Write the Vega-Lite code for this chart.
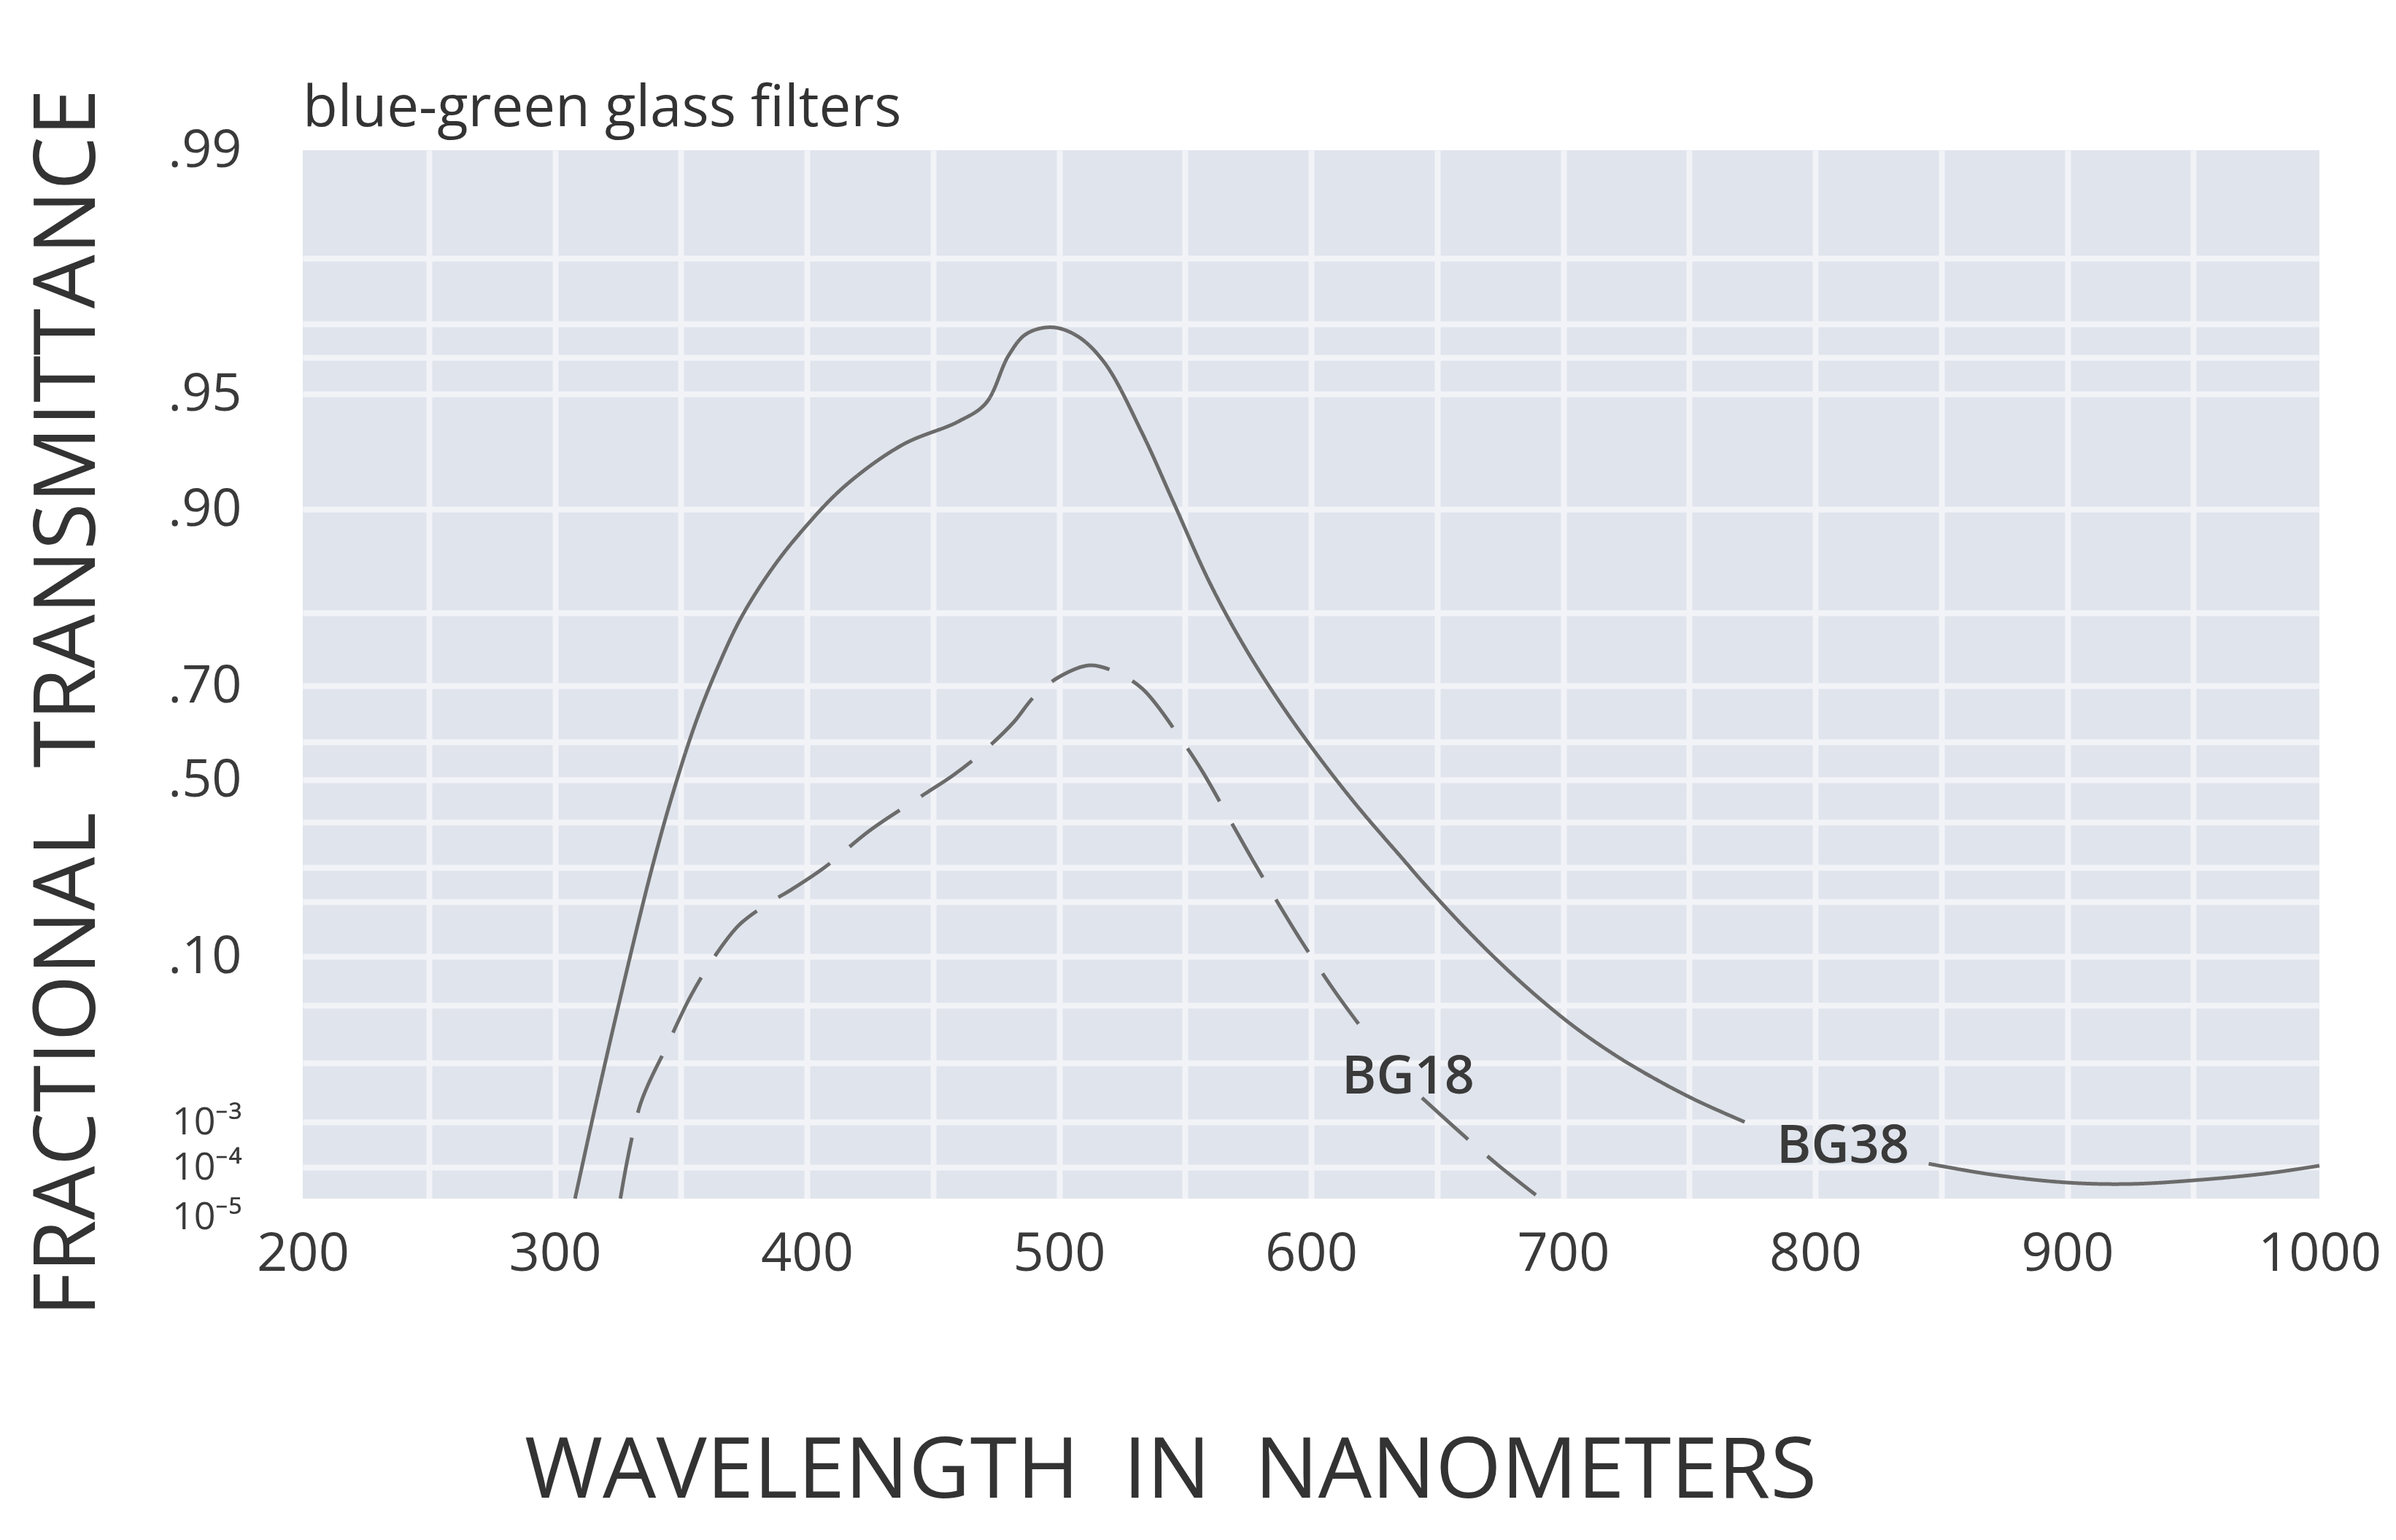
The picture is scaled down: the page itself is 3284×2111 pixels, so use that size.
{
  "$schema": "https://vega.github.io/schema/vega-lite/v6.json",
  "width": 2764,
  "height": 1437,
  "autosize": {"type": "none"},
  "padding": {"left": 415, "top": 206, "right": 105, "bottom": 468},
  "background": "#ffffff",
  "title": {
    "text": "blue-green glass filters",
    "anchor": "start",
    "frame": "group",
    "font": "Open Sans",
    "fontSize": 78,
    "fontWeight": "normal",
    "color": "#333333",
    "baseline": "alphabetic",
    "offset": -129
  },
  "config": {
    "view": {"fill": "#e0e4ec", "stroke": null},
    "axis": {
      "labelFont": "Open Sans",
      "titleFont": "Open Sans",
      "labelColor": "#3a3a3a",
      "titleColor": "#333333",
      "titleFontWeight": "normal",
      "gridColor": "#f1f3f7",
      "gridWidth": 8,
      "domain": false,
      "ticks": false,
      "tickSize": 0,
      "labelOverlap": false,
      "labelFlush": false,
      "labelBound": false
    }
  },
  "datasets": {
    "curves": [
      {"filter": "BG38", "segment": "BG38-1", "wavelength": 308, "transmittance": 0.00001},
      {"filter": "BG38", "segment": "BG38-1", "wavelength": 316, "transmittance": 0.0033},
      {"filter": "BG38", "segment": "BG38-1", "wavelength": 325, "transmittance": 0.048},
      {"filter": "BG38", "segment": "BG38-1", "wavelength": 338, "transmittance": 0.283},
      {"filter": "BG38", "segment": "BG38-1", "wavelength": 347, "transmittance": 0.472},
      {"filter": "BG38", "segment": "BG38-1", "wavelength": 356, "transmittance": 0.636},
      {"filter": "BG38", "segment": "BG38-1", "wavelength": 365, "transmittance": 0.7285},
      {"filter": "BG38", "segment": "BG38-1", "wavelength": 374, "transmittance": 0.794},
      {"filter": "BG38", "segment": "BG38-1", "wavelength": 386, "transmittance": 0.842},
      {"filter": "BG38", "segment": "BG38-1", "wavelength": 398, "transmittance": 0.879},
      {"filter": "BG38", "segment": "BG38-1", "wavelength": 415, "transmittance": 0.91},
      {"filter": "BG38", "segment": "BG38-1", "wavelength": 438, "transmittance": 0.928},
      {"filter": "BG38", "segment": "BG38-1", "wavelength": 460, "transmittance": 0.938},
      {"filter": "BG38", "segment": "BG38-1", "wavelength": 471, "transmittance": 0.946},
      {"filter": "BG38", "segment": "BG38-1", "wavelength": 480, "transmittance": 0.9606},
      {"filter": "BG38", "segment": "BG38-1", "wavelength": 487, "transmittance": 0.967},
      {"filter": "BG38", "segment": "BG38-1", "wavelength": 497, "transmittance": 0.969},
      {"filter": "BG38", "segment": "BG38-1", "wavelength": 507, "transmittance": 0.9665},
      {"filter": "BG38", "segment": "BG38-1", "wavelength": 518, "transmittance": 0.9586},
      {"filter": "BG38", "segment": "BG38-1", "wavelength": 533, "transmittance": 0.933},
      {"filter": "BG38", "segment": "BG38-1", "wavelength": 545, "transmittance": 0.904},
      {"filter": "BG38", "segment": "BG38-1", "wavelength": 560, "transmittance": 0.828},
      {"filter": "BG38", "segment": "BG38-1", "wavelength": 574, "transmittance": 0.751},
      {"filter": "BG38", "segment": "BG38-1", "wavelength": 589, "transmittance": 0.661},
      {"filter": "BG38", "segment": "BG38-1", "wavelength": 604, "transmittance": 0.552},
      {"filter": "BG38", "segment": "BG38-1", "wavelength": 619, "transmittance": 0.433},
      {"filter": "BG38", "segment": "BG38-1", "wavelength": 636, "transmittance": 0.321},
      {"filter": "BG38", "segment": "BG38-1", "wavelength": 646, "transmittance": 0.243},
      {"filter": "BG38", "segment": "BG38-1", "wavelength": 660, "transmittance": 0.157},
      {"filter": "BG38", "segment": "BG38-1", "wavelength": 675, "transmittance": 0.0933},
      {"filter": "BG38", "segment": "BG38-1", "wavelength": 690, "transmittance": 0.0582},
      {"filter": "BG38", "segment": "BG38-1", "wavelength": 705, "transmittance": 0.0343},
      {"filter": "BG38", "segment": "BG38-1", "wavelength": 720, "transmittance": 0.0161},
      {"filter": "BG38", "segment": "BG38-1", "wavelength": 734, "transmittance": 0.0081},
      {"filter": "BG38", "segment": "BG38-1", "wavelength": 752, "transmittance": 0.00444},
      {"filter": "BG38", "segment": "BG38-1", "wavelength": 772, "transmittance": 0.001},
      {"filter": "BG38", "segment": "BG38-2", "wavelength": 845, "transmittance": 0.00017},
      {"filter": "BG38", "segment": "BG38-2", "wavelength": 870, "transmittance": 0.000079},
      {"filter": "BG38", "segment": "BG38-2", "wavelength": 900, "transmittance": 0.000056},
      {"filter": "BG38", "segment": "BG38-2", "wavelength": 925, "transmittance": 0.000052},
      {"filter": "BG38", "segment": "BG38-2", "wavelength": 953, "transmittance": 0.000064},
      {"filter": "BG38", "segment": "BG38-2", "wavelength": 980, "transmittance": 0.000083},
      {"filter": "BG38", "segment": "BG38-2", "wavelength": 1000, "transmittance": 0.00013},
      {"filter": "BG18", "segment": "BG18-1", "wavelength": 326, "transmittance": 0.00001},
      {"filter": "BG18", "segment": "BG18-1", "wavelength": 334, "transmittance": 0.0038},
      {"filter": "BG18", "segment": "BG18-1", "wavelength": 344.5, "transmittance": 0.022},
      {"filter": "BG18", "segment": "BG18-1", "wavelength": 354, "transmittance": 0.06},
      {"filter": "BG18", "segment": "BG18-1", "wavelength": 364, "transmittance": 0.104},
      {"filter": "BG18", "segment": "BG18-1", "wavelength": 373, "transmittance": 0.157},
      {"filter": "BG18", "segment": "BG18-1", "wavelength": 384, "transmittance": 0.195},
      {"filter": "BG18", "segment": "BG18-1", "wavelength": 394, "transmittance": 0.236},
      {"filter": "BG18", "segment": "BG18-1", "wavelength": 407, "transmittance": 0.3},
      {"filter": "BG18", "segment": "BG18-1", "wavelength": 425, "transmittance": 0.382},
      {"filter": "BG18", "segment": "BG18-1", "wavelength": 445, "transmittance": 0.46},
      {"filter": "BG18", "segment": "BG18-1", "wavelength": 458, "transmittance": 0.512},
      {"filter": "BG18", "segment": "BG18-1", "wavelength": 470, "transmittance": 0.575},
      {"filter": "BG18", "segment": "BG18-1", "wavelength": 482, "transmittance": 0.635},
      {"filter": "BG18", "segment": "BG18-1", "wavelength": 490, "transmittance": 0.68},
      {"filter": "BG18", "segment": "BG18-1", "wavelength": 500, "transmittance": 0.712},
      {"filter": "BG18", "segment": "BG18-1", "wavelength": 512, "transmittance": 0.728},
      {"filter": "BG18", "segment": "BG18-1", "wavelength": 521, "transmittance": 0.721},
      {"filter": "BG18", "segment": "BG18-1", "wavelength": 533, "transmittance": 0.695},
      {"filter": "BG18", "segment": "BG18-1", "wavelength": 549, "transmittance": 0.601},
      {"filter": "BG18", "segment": "BG18-1", "wavelength": 557, "transmittance": 0.521},
      {"filter": "BG18", "segment": "BG18-1", "wavelength": 568.5, "transmittance": 0.398},
      {"filter": "BG18", "segment": "BG18-1", "wavelength": 577, "transmittance": 0.3145},
      {"filter": "BG18", "segment": "BG18-1", "wavelength": 588, "transmittance": 0.189},
      {"filter": "BG18", "segment": "BG18-1", "wavelength": 596, "transmittance": 0.129},
      {"filter": "BG18", "segment": "BG18-1", "wavelength": 610, "transmittance": 0.062},
      {"filter": "BG18", "segment": "BG18-1", "wavelength": 624, "transmittance": 0.025},
      {"filter": "BG18", "segment": "BG18-2", "wavelength": 644, "transmittance": 0.00467},
      {"filter": "BG18", "segment": "BG18-2", "wavelength": 662, "transmittance": 0.000666},
      {"filter": "BG18", "segment": "BG18-2", "wavelength": 674, "transmittance": 0.00015},
      {"filter": "BG18", "segment": "BG18-2", "wavelength": 691, "transmittance": 0.00001}
    ],
    "labels": [
      {"label": "BG18", "wavelength": 638.5, "transmittance": 0.0078},
      {"label": "BG38", "wavelength": 811, "transmittance": 0.00051}
    ]
  },
  "encoding": {
    "x": {
      "field": "wavelength",
      "type": "quantitative",
      "scale": {"domain": [200, 1000], "nice": false, "zero": false},
      "axis": {
        "values": [200, 250, 300, 350, 400, 450, 500, 550, 600, 650, 700, 750, 800, 850, 900, 950, 1000],
        "format": "d",
        "labelExpr": "datum.value % 100 === 0 ? datum.label : ''",
        "grid": true,
        "gridOpacity": {"condition": {"test": "datum.value == 200 || datum.value == 1000", "value": 0}, "value": 1},
        "labelFontSize": 74,
        "labelPadding": 40,
        "title": "WAVELENGTH\u00a0\u00a0IN\u00a0\u00a0NANOMETERS",
        "titleFontSize": 116,
        "titleX": 1189,
        "titleY": 374,
        "titleAlign": "center",
        "titleBaseline": "middle"
      }
    },
    "y": {
      "field": "transmittance",
      "type": "quantitative",
      "scale": {
        "type": "linear",
        "nice": false,
        "zero": false,
        "domain": [0.00001, 0.0001, 0.001, 0.01, 0.05, 0.1, 0.2, 0.3, 0.4, 0.5, 0.6, 0.7, 0.8, 0.9, 0.95, 0.96, 0.97, 0.98, 0.99],
        "range": [1437, 1394, 1332, 1251, 1172, 1105, 1030, 983, 921, 863, 811, 734, 634, 492, 334, 284, 238, 148, 0]
      },
      "axis": {
        "values": [0.00001, 0.0001, 0.001, 0.01, 0.05, 0.1, 0.2, 0.3, 0.4, 0.5, 0.6, 0.7, 0.8, 0.9, 0.95, 0.96, 0.97, 0.98, 0.99],
        "labelExpr": "datum.value == 0.99 ? '.99' : datum.value == 0.95 ? '.95' : datum.value == 0.9 ? '.90' : datum.value == 0.7 ? '.70' : datum.value == 0.5 ? '.50' : datum.value == 0.1 ? '.10' : datum.value == 0.001 ? '10\u207b\u00b3' : datum.value == 0.0001 ? '10\u207b\u2074' : datum.value == 0.00001 ? '10\u207b\u2075' : ''",
        "grid": true,
        "gridOpacity": {"condition": {"test": "datum.value == 0.99 || datum.value == 0.00001", "value": 0}, "value": 1},
        "labelBaseline": {"condition": {"test": "datum.value == 0.00001", "value": "top"}, "value": "middle"},
        "labelFontSize": {"condition": {"test": "datum.value < 0.005", "value": 52}, "value": 72},
        "labelPadding": 84,
        "title": "FRACTIONAL\u00a0\u00a0TRANSMITTANCE",
        "titleFontSize": 117,
        "titleX": -321,
        "titleY": 757,
        "titleAlign": "center",
        "titleBaseline": "middle"
      }
    }
  },
  "layer": [
    {
      "data": {"name": "curves"},
      "mark": {"type": "line", "strokeWidth": 5, "color": "#6b6b6b", "strokeCap": "butt", "interpolate": "catmull-rom"},
      "encoding": {
        "detail": {"field": "segment", "type": "nominal"},
        "strokeDash": {
          "field": "filter",
          "type": "nominal",
          "scale": {"domain": ["BG38", "BG18"], "range": [[1, 0], [85, 35]]},
          "legend": null
        }
      }
    },
    {
      "data": {"name": "labels"},
      "mark": {"type": "text", "font": "Open Sans", "fontSize": 72, "fontWeight": 600, "color": "#3a3a3a", "align": "center", "baseline": "middle"},
      "encoding": {
        "text": {"field": "label", "type": "nominal"}
      }
    }
  ]
}
